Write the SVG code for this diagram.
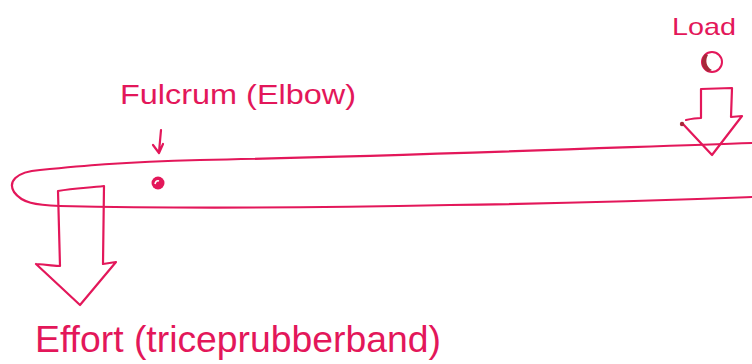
<svg xmlns="http://www.w3.org/2000/svg" width="752" height="364" viewBox="0 0 752 364">
<style>
.ink{fill:none;stroke:#e3175a;stroke-width:2.2;stroke-linecap:round;stroke-linejoin:round}
.lbl{fill:#e3175a;font-family:"Liberation Sans",Arial,sans-serif}
</style>
<rect width="752" height="364" fill="#ffffff"/>
<g id="beam">
<path class="ink" d="M752,143 C600,148 400,156 200,160 C120,162 80,166 40,170 C15,172 8,182 14,192 C22,203 35,205 60,206 C150,208 300,208 450,205 C600,203 700,199 752,197"/>
</g>
<g id="fulcrum">
<circle cx="158" cy="183" r="6.5" fill="#e3175a"/>
<path d="M155,184 q1,-4 4,-3" stroke="#fff" stroke-width="1.6" fill="none"/>
<text class="lbl" x="120" y="104" font-size="28" textLength="236" lengthAdjust="spacingAndGlyphs">Fulcrum (Elbow)</text>
</g>
<g id="load">
<circle cx="712" cy="62" r="10" fill="#fff" stroke="#e3175a" stroke-width="2"/>
<path d="M705,54 C700,60 701,68 708,72 L712,70 C706,67 705,60 708,55 Z" fill="#a8283a"/>
<text class="lbl" x="672" y="35" font-size="24" textLength="64" lengthAdjust="spacingAndGlyphs">Load</text>
</g>
<g id="effort">
<text class="lbl" x="35" y="352" font-size="36" textLength="406" lengthAdjust="spacingAndGlyphs">Effort (triceprubberband)</text>
</g>
<g id="connectors">
<path class="ink" d="M161,130 L159,152 M153,145 L159,153 L163,144"/>
<path class="ink" d="M60,266 L58,191 C75,188 88,188 104,186 L103,264 M36,264 C50,265 55,266 60,266 M103,264 L116,262 L80,305 L36,264"/>
<path class="ink" d="M701,118 L701,89 L732,88 L731,117 L742,116 L712,155 L682,123 M686,120 C695,118 700,118 701,118"/>
<circle cx="682" cy="124" r="2.2" fill="#a8283a"/>
</g>
</svg>
